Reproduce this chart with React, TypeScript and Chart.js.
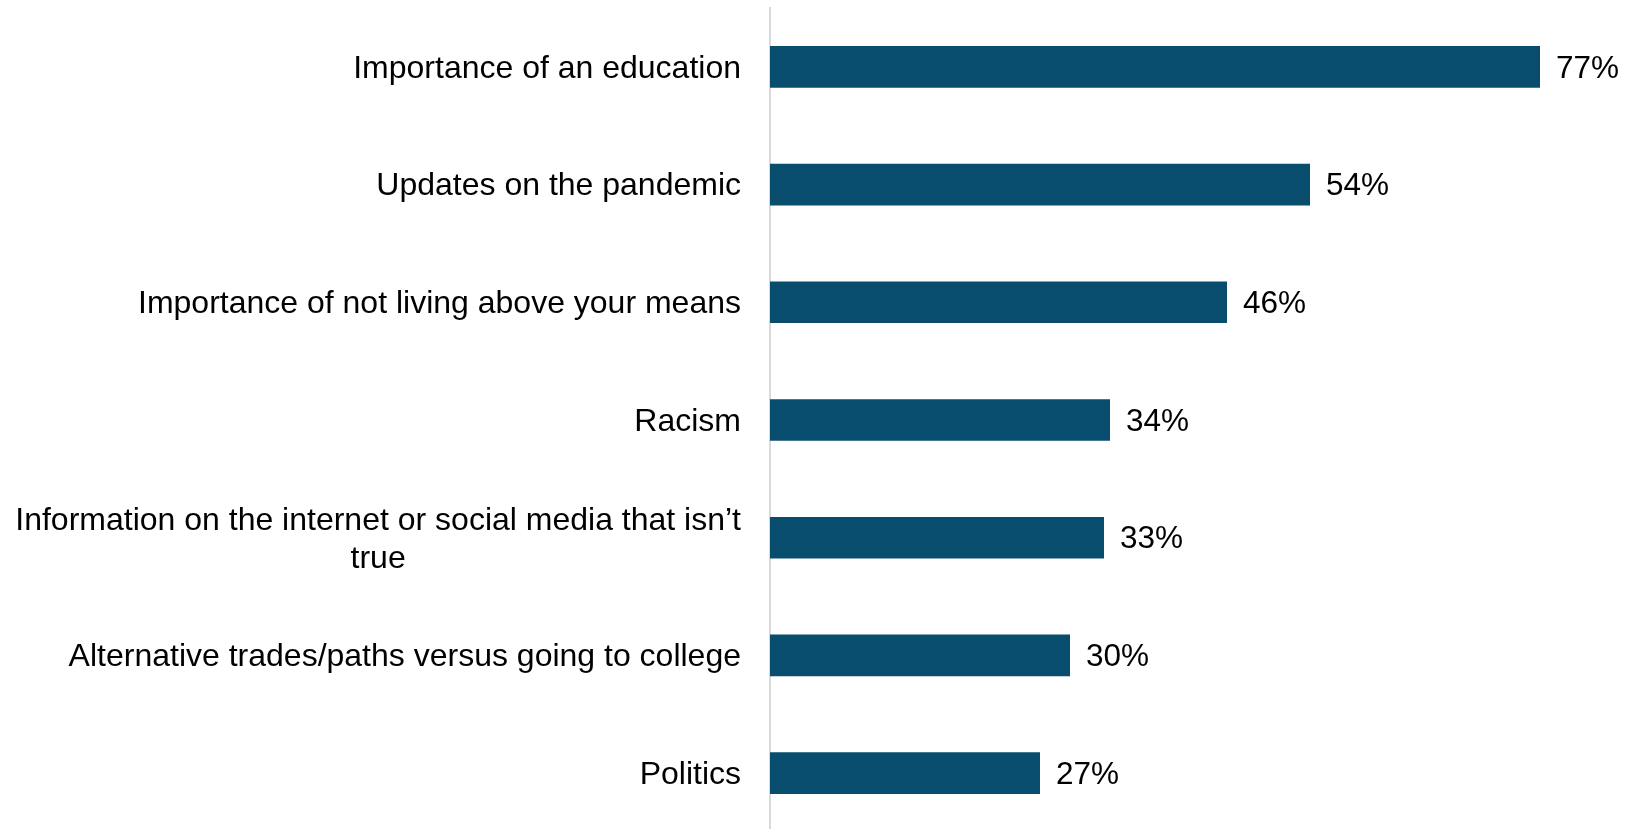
import React, { useEffect, useRef } from "react";
import { Chart, registerables } from "chart.js";

Chart.register(...registerables);

const categories: string[][] = [
  ["Importance of an education"],
  ["Updates on the pandemic"],
  ["Importance of not living above your means"],
  ["Racism"],
  ["Information on the internet or social media that isn’t", "true"],
  ["Alternative trades/paths versus going to college"],
  ["Politics"],
];
const values: number[] = [77, 54, 45.7, 34, 33.4, 30, 27];
const valueLabels: string[] = ["77%", "54%", "46%", "34%", "33%", "30%", "27%"];

const FONT = '"Liberation Sans", Arial, sans-serif';
const BAR_COLOR = "#084c6e";

const labelPlugin = {
  id: "customLabels",
  afterDraw(chart: any) {
    const ctx = chart.ctx;
    const yScale = chart.scales.y;
    const xScale = chart.scales.x;
    ctx.save();
    ctx.fillStyle = "#000";
    ctx.font = `32px ${FONT}`;
    ctx.textBaseline = "middle";
    const rightX = chart.chartArea.left - 29;
    const lineH = 38;
    categories.forEach((lines, i) => {
      const cy = yScale.getPixelForValue(i) + 2;
      const w0 = ctx.measureText(lines[0]).width;
      const center = rightX - w0 / 2;
      const startY = cy - ((lines.length - 1) * lineH) / 2;
      lines.forEach((line, j) => {
        if (j === 0) {
          ctx.textAlign = "right";
          ctx.fillText(line, rightX, startY);
        } else {
          ctx.textAlign = "center";
          ctx.fillText(line, center, startY + j * lineH);
        }
      });
    });
    ctx.textAlign = "left";
    ctx.font = `31.5px ${FONT}`;
    values.forEach((v, i) => {
      const x = xScale.getPixelForValue(v) + 16;
      const y = yScale.getPixelForValue(i) + 2;
      ctx.fillText(valueLabels[i], x, y);
    });
    ctx.restore();
  },
};

export default function App() {
  const ref = useRef<HTMLCanvasElement | null>(null);
  useEffect(() => {
    if (!ref.current) return;
    const chart = new Chart(ref.current, {
      type: "bar",
      data: {
        labels: categories.map((c) => c.join(" ")),
        datasets: [
          {
            data: values,
            backgroundColor: BAR_COLOR,
            borderWidth: 0,
            categoryPercentage: 1,
            barPercentage: 0.354,
          },
        ],
      },
      options: {
        indexAxis: "y",
        animation: false,
        responsive: false,
        maintainAspectRatio: false,
        layout: { padding: { top: 8, right: 57, bottom: 0, left: 0 } },
        plugins: {
          legend: { display: false },
          tooltip: { enabled: false },
        },
        scales: {
          x: {
            display: false,
            min: 0,
            max: 80,
          },
          y: {
            display: true,
            grid: { display: false, drawTicks: false },
            ticks: { display: false },
            border: { display: true, color: "#d9d9d9", width: 2 },
            afterFit: (scale: any) => {
              scale.width = 770;
            },
          },
        },
      },
      plugins: [labelPlugin],
    });
    return () => chart.destroy();
  }, []);
  return (
    <div
      style={{
        position: "fixed",
        left: 0,
        top: 0,
        width: 1627,
        height: 829,
        overflow: "hidden",
        background: "#fff",
      }}
    >
      <canvas ref={ref} width={1627} height={832} style={{ display: "block" }} />
    </div>
  );
}
